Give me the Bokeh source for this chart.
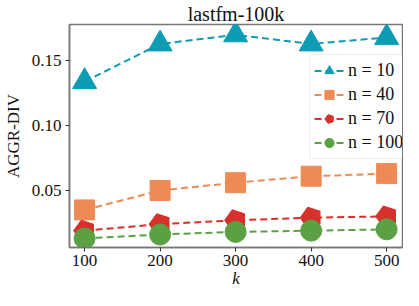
from bokeh.plotting import figure
from bokeh.models import Range1d, Legend, LegendItem, FixedTicker, PrintfTickFormatter
from bokeh.embed import file_html
from bokeh.resources import INLINE
import math

k_values = [100, 200, 300, 400, 500]
n10 = [0.134, 0.163, 0.170, 0.163, 0.168]
n40 = [0.035, 0.050, 0.056, 0.061, 0.063]
n70 = [0.019, 0.024, 0.027, 0.029, 0.030]
n100 = [0.013, 0.016, 0.018, 0.019, 0.020]
labels = ["n = 10", "n = 40", "n = 70", "n = 100"]
y_ticks = [0.05, 0.10, 0.15]

FONT = "Liberation Serif"
c10, c40, c70, c100 = "#0e9cb4", "#ee8a56", "#d6312a", "#5ba144"

p = figure(width=403, height=290, output_backend="svg", toolbar_location=None,
           x_range=Range1d(80, 521), y_range=Range1d(0.006, 0.178),
           min_border_left=2, min_border_right=1, min_border_top=0, min_border_bottom=0)
p.title.text = "lastfm-100k"
p.title.text_font = FONT
p.title.text_font_size = "20px"
p.title.text_font_style = "normal"
p.title.text_color = "#111111"
p.title.align = "center"
p.title.standoff = 0
p.title.offset = 0
p.grid.visible = False
p.outline_line_color = "#777777"
p.outline_line_width = 1.5

for ax in (p.xaxis[0], p.yaxis[0]):
    ax.axis_line_color = "#777777"
    ax.axis_line_width = 1.5
    ax.major_tick_line_color = "#333333"
    ax.major_tick_out = 4
    ax.major_tick_in = 0
    ax.minor_tick_line_color = None
    ax.major_label_text_font = FONT
    ax.major_label_text_font_size = "17px"
    ax.major_label_text_color = "#111111"
    ax.axis_label_text_font = FONT
    ax.axis_label_text_font_size = "17px"
    ax.axis_label_text_color = "#111111"
    ax.axis_label_text_font_style = "normal"

p.xaxis.ticker = FixedTicker(ticks=k_values)
p.yaxis.ticker = FixedTicker(ticks=y_ticks)
p.yaxis.formatter = PrintfTickFormatter(format="%.2f")
p.xaxis.axis_label = "k"
p.xaxis.axis_label_text_font_style = "italic"
p.xaxis.axis_label_standoff = 0
p.xaxis.major_label_standoff = 3
p.yaxis.axis_label = "AGGR-DIV"
p.yaxis.axis_label_standoff = 6
p.yaxis.major_label_standoff = 4

items = []
l1 = p.line(k_values, n10, line_color=c10, line_width=2, line_dash="7 4")
m1 = p.scatter(k_values, n10, marker="triangle", size=24, fill_color=c10, line_color=c10)
items.append(LegendItem(label=labels[0], renderers=[l1, m1]))
l2 = p.line(k_values, n40, line_color=c40, line_width=2, line_dash="7 4")
m2 = p.scatter(k_values, n40, marker="square", size=20, fill_color=c40, line_color=c40)
items.append(LegendItem(label=labels[1], renderers=[l2, m2]))
l3 = p.line(k_values, n70, line_color=c70, line_width=2, line_dash="7 4")
m3 = p.ngon(k_values, n70, radius=11, radius_units="screen", n=5, angle=math.pi / 2,
            fill_color=c70, line_color=c70)
items.append(LegendItem(label=labels[2], renderers=[l3, m3]))
l4 = p.line(k_values, n100, line_color=c100, line_width=2, line_dash="7 4")
m4 = p.scatter(k_values, n100, marker="circle", size=21, fill_color=c100, line_color=c100)
items.append(LegendItem(label=labels[3], renderers=[l4, m4]))

legend = Legend(items=items, location=(240, 88))
legend.label_text_font = FONT
legend.label_text_font_size = "18px"
legend.label_text_font_style = "normal"
legend.label_text_color = "#111111"
legend.glyph_width = 30
legend.glyph_height = 23
legend.label_height = 22
legend.spacing = 1
legend.padding = 4
legend.margin = 0
legend.label_standoff = 4
legend.border_line_color = "#dddddd"
legend.border_line_width = 1
legend.background_fill_alpha = 0.9
p.add_layout(legend)

open("out.html", "w").write(file_html(p, INLINE))
